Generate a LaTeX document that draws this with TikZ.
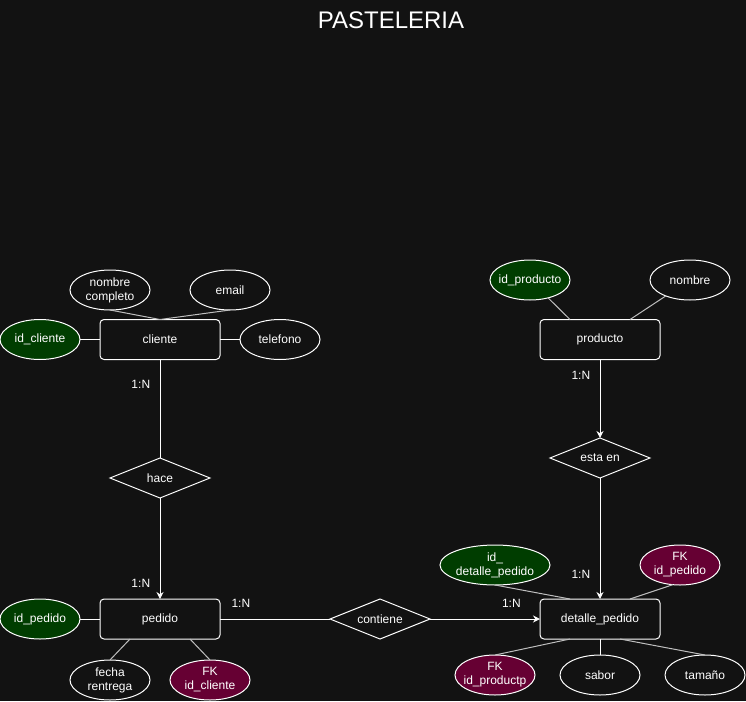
\documentclass[tikz,border=0pt]{standalone}
\usepackage{fontspec}
\setmainfont{Liberation Sans}
\usepackage{tikz}
\usetikzlibrary{positioning,shapes.geometric,arrows.meta}
\definecolor{fondo}{RGB}{18, 18, 18}
\definecolor{verdePK}{RGB}{0, 61, 0}
\definecolor{rojoFK}{RGB}{102, 0, 51}

\begin{document}
\begin{tikzpicture}[
        x=1pt, y=-1pt,
        every node/.style={font=\fontsize{12}{14}\selectfont, text=white},
        entidad/.style={rectangle, rounded corners=4pt, draw=white, fill=fondo, line width=1pt, minimum width=120pt, minimum height=40pt, outer sep=0pt},
        atributo/.style={ellipse, draw=white, fill=fondo, line width=1pt, minimum width=80pt, minimum height=40pt, inner xsep=-10pt, inner ysep=0pt, outer sep=0pt, align=center},
        clave/.style={atributo, fill=verdePK},
        foranea/.style={atributo, fill=rojoFK},
        relacion/.style={diamond, draw=white, fill=fondo, line width=1pt, minimum width=100pt, minimum height=40pt, inner sep=0pt, outer sep=0pt, shape aspect=2.5},
        linea/.style={draw=white, line width=1pt},
        enlace/.style={draw=white!75!black, line width=1pt},
        flecha/.style={draw=white, line width=1pt, -{Stealth[length=7pt, width=7pt]}}
    ]
        % Background
        \fill[fondo] (0,0) rectangle (746,701);
        \useasboundingbox (0,0) rectangle (746,701);

        % Title
        \node[font=\fontsize{24}{28}\selectfont] (titulo) at (391,20) {PASTELERIA};

        % Cliente
        \node[entidad] (cliente) at (160,339.5) {cliente};
        \node[clave, left=20pt of cliente] (idcliente) {id\_cliente};
        \node[atributo, right=20pt of cliente] (telefono) {telefono};
        \node[atributo] (nombrecompleto) at (110,290) {nombre\\completo};
        \node[atributo] (email) at (230,290) {email};

        % Relacion hace
        \node[relacion] (hace) at (160,478) {hace};

        % Pedido
        \node[entidad] (pedido) at (160,619) {pedido};
        \node[clave, left=20pt of pedido] (idpedido) {id\_pedido};
        \node[atributo] (fecha) at (110,680) {fecha\\rentrega};
        \node[foranea] (fkcliente) at (210,680) {FK\\id\_cliente};

        % Relacion contiene
        \node[relacion] (contiene) at (380,619) {contiene};

        % Producto
        \node[entidad] (producto) at (600,339.5) {producto};
        \node[clave] (idproducto) at (530,280) {id\_producto};
        \node[atributo] (nombre) at (690,280) {nombre};

        % Relacion esta en
        \node[relacion] (estaen) at (600,458) {esta en};

        % Detalle pedido
        \node[entidad] (detalle) at (600,619) {detalle\_pedido};
        \node[clave, minimum width=110pt] (iddetalle) at (495,565) {id\_\\detalle\_pedido};
        \node[foranea] (fkpedido) at (680,565) {FK\\id\_pedido};
        \node[foranea] (fkproducto) at (495,675) {FK\\id\_productp};
        \node[atributo] (sabor) at (600,675) {sabor};
        \node[atributo] (tamano) at (705,675) {tamaño};

        % Attribute links
        \draw[linea] (idcliente) -- (cliente);
        \draw[linea] (telefono) -- (cliente);
        \draw[enlace] (nombrecompleto.south) -- (cliente.north);
        \draw[enlace] (email.south) -- (cliente.north);
        \draw[linea] (idpedido) -- (pedido);
        \draw[enlace] (fecha.north) -- ([xshift=30pt]pedido.south west);
        \draw[enlace] (fkcliente.north) -- ([xshift=-30pt]pedido.south east);
        \draw[enlace] (idproducto) -- ([xshift=30pt]producto.north west);
        \draw[enlace] (nombre) -- ([xshift=-30pt]producto.north east);
        \draw[enlace] (iddetalle.south) -- ([xshift=30pt]detalle.north west);
        \draw[enlace] (fkpedido.250) -- ([xshift=-30pt]detalle.north east);
        \draw[enlace] (fkproducto.north) -- ([xshift=30pt]detalle.south west);
        \draw[linea] (sabor) -- (detalle);
        \draw[enlace] (tamano.north) -- ([xshift=-40pt]detalle.south east);

        % Relationships
        \draw[linea] (cliente) -- node[pos=0.25, left=6pt] {1:N} (hace);
        \draw[flecha] (hace) -- node[pos=0.85, left=6pt] {1:N} (pedido);
        \draw[linea] (pedido) -- node[pos=0.19, above=8pt] {1:N} (contiene);
        \draw[flecha] (contiene) -- node[pos=0.74, above=8pt] {1:N} (detalle);
        \draw[flecha] (producto) -- node[pos=0.2, left=6pt] {1:N} (estaen);
        \draw[flecha] (estaen) -- node[pos=0.8, left=6pt] {1:N} (detalle);

    \end{tikzpicture}
\end{document}
